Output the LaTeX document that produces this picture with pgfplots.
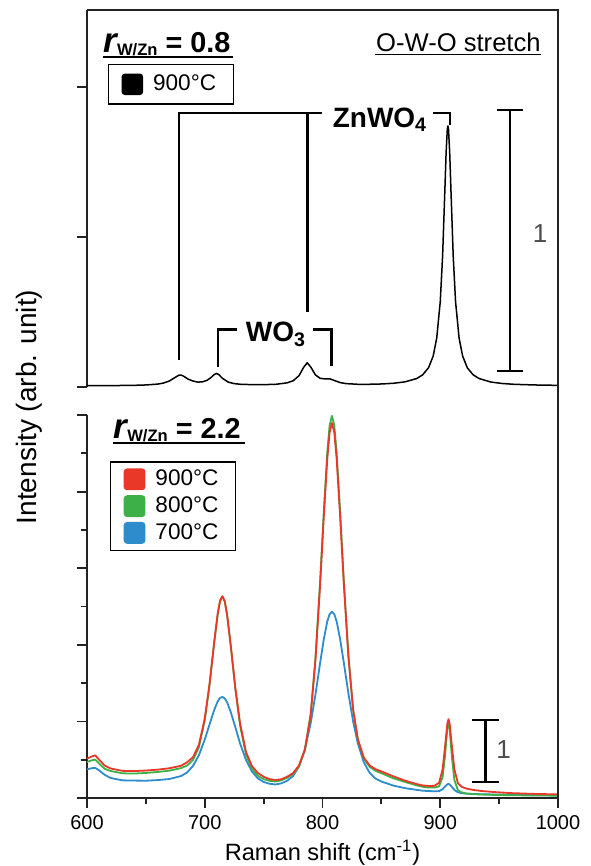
\documentclass[border=0pt]{standalone}
\usepackage{pgfplots}
\pgfplotsset{compat=1.18}
\usepackage{fontspec}
\setmainfont{Liberation Sans}
\definecolor{cred}{RGB}{234,56,40}
\definecolor{cgreen}{RGB}{62,176,72}
\definecolor{cblue}{RGB}{44,140,204}
\definecolor{frame}{RGB}{35,35,35}
\newcommand{\rtitle}[1]{{\fontsize{17.5}{20}\selectfont\bfseries\itshape r}\raisebox{-1.5pt}{\fontsize{8.3}{10}\selectfont\bfseries W/Zn}{\fontsize{14.4}{17}\selectfont\bfseries\ = #1}}
\tikzset{bracket/.style={line width=1.3pt, black, line join=miter}}

\pgfplotstableread{
x y
600 0.005
620 0.0053
640 0.0064
650 0.0078
660 0.0111
665 0.0152
670 0.0232
674 0.0345
678 0.0454
680 0.0456
682 0.0416
686 0.0299
690 0.0230
694 0.0189
698 0.0196
702 0.0256
706 0.039
708 0.0479
710 0.0522
712 0.0475
715 0.0333
720 0.0187
725 0.013
730 0.0106
740 0.009
750 0.0092
760 0.0101
770 0.016
775 0.0239
780 0.0432
784 0.0757
787 0.0932
790 0.0769
794 0.0466
798 0.0333
802 0.0312
806 0.0317
810 0.0251
815 0.0169
820 0.013
830 0.0104
840 0.0105
850 0.0116
860 0.0142
870 0.0197
880 0.0325
885 0.0465
890 0.0737
894 0.119
897 0.188
900 0.328
902 0.504
904 0.768
905 0.904
906 0.992
906.5 1.004
907 0.992
908 0.904
909 0.768
911 0.504
913 0.328
916 0.188
919 0.119
923 0.0737
928 0.0465
933 0.0325
943 0.019
953 0.0133
963 0.0103
980 0.0078
1000 0.0063
}\topdata

\pgfplotstableread{
x y
600 0.634
604 0.670
607 0.688
610 0.624
615 0.523
620 0.476
630 0.438
640 0.434
650 0.443
660 0.457
670 0.480
680 0.521
685 0.576
690 0.658
695 0.855
700 1.284
704 1.83
708 2.508
711 2.97
713 3.18
715 3.251
717 3.172
719 2.953
722 2.476
726 1.775
730 1.204
735 0.745
740 0.516
745 0.405
750 0.343
755 0.305
760 0.290
765 0.303
770 0.343
775 0.402
780 0.523
785 0.777
790 1.348
794 2.219
798 3.445
801 4.503
804 5.456
806 5.891
808 6.047
810 5.900
812 5.473
815 4.534
818 3.488
822 2.279
826 1.425
830 0.947
835 0.655
840 0.525
845 0.465
850 0.429
860 0.35
870 0.281
880 0.225
885 0.203
890 0.194
895 0.196
899 0.245
902 0.463
904 0.815
906 1.200
907 1.271
908 1.199
910 0.813
912 0.460
915 0.238
918 0.183
922 0.153
928 0.130
935 0.113
945 0.097
960 0.079
980 0.066
1000 0.058
}\reddata

\pgfplotstableread{
x y
600 0.581
604 0.607
607 0.618
610 0.561
615 0.471
620 0.436
630 0.398
640 0.394
650 0.404
660 0.419
670 0.441
680 0.483
685 0.523
690 0.612
695 0.817
700 1.25
704 1.808
708 2.499
711 2.969
713 3.181
715 3.254
717 3.172
719 2.949
722 2.464
726 1.753
730 1.171
735 0.703
740 0.473
745 0.36
750 0.304
755 0.277
760 0.266
765 0.285
770 0.326
775 0.388
780 0.507
785 0.768
790 1.357
794 2.249
798 3.504
801 4.584
804 5.558
806 6.004
808 6.163
810 6.012
812 5.574
815 4.611
818 3.54
822 2.302
826 1.427
830 0.942
835 0.639
840 0.504
845 0.439
850 0.401
860 0.319
870 0.259
880 0.204
885 0.181
890 0.17
895 0.168
899 0.187
902 0.336
904 0.668
906 1.117
907 1.205
908 1.107
910 0.639
912 0.29
915 0.126
918 0.091
922 0.074
928 0.062
935 0.056
945 0.05
960 0.045
980 0.04
1000 0.038
}\greendata

\pgfplotstableread{
x y
600 0.464
604 0.48
607 0.486
610 0.45
615 0.374
620 0.323
630 0.285
640 0.281
650 0.279
660 0.289
670 0.306
680 0.355
685 0.411
690 0.517
695 0.688
700 0.942
704 1.182
708 1.419
711 1.559
713 1.614
715 1.63
717 1.606
719 1.543
722 1.391
726 1.14
730 0.879
735 0.614
740 0.431
745 0.318
750 0.258
755 0.23
760 0.218
765 0.236
770 0.278
775 0.355
780 0.509
785 0.78
790 1.209
794 1.667
798 2.18
801 2.548
804 2.844
806 2.963
808 3.005
810 2.966
812 2.849
815 2.558
818 2.194
822 1.688
826 1.235
830 0.88
835 0.58
840 0.407
845 0.314
850 0.266
860 0.201
870 0.159
880 0.131
885 0.118
890 0.112
895 0.109
899 0.111
902 0.142
904 0.183
906 0.222
907 0.227
908 0.219
910 0.176
912 0.13
915 0.092
918 0.079
922 0.07
928 0.065
935 0.061
945 0.057
960 0.052
980 0.046
1000 0.042
}\bluedata

\pgfplotsset{
  panel/.style={
    scale only axis, width=235.5pt,
    xmin=600, xmax=1000,
    axis line style={frame, line width=0.9pt},
    tick style={frame, line width=0.9pt},
    tick align=outside,
    major tick length=5pt, minor tick length=3pt,
    yticklabels={},
    /pgf/number format/assume math mode=true,
    /pgf/number format/1000 sep={},
    ticklabel style={font=\fontsize{10}{12}\selectfont},
    legend cell align=left,
    legend image code/.code={\fill[##1, rounded corners=1.3pt] (0pt,-5pt) rectangle (10pt,5pt);},
    legend style={draw=black, line width=0.6pt, font=\fontsize{11.3}{13}\selectfont,
      inner xsep=6.5pt, inner ysep=2pt, anchor=north west,
      /tikz/every odd column/.append style={column sep=3pt}},
    clip=false,
  },
}

\begin{document}
\begin{tikzpicture}
\useasboundingbox (0,0) rectangle (295pt,433pt);

\begin{axis}[panel, name=top, at={(43.5pt,239.5pt)}, anchor=south west, height=188.5pt,
  ymin=0, ymax=1.45, axis x line=none, axis y line*=left,
  ytick={0,0.577,1.154}, xtick=\empty,
  legend style={at={(0.0446,0.857)}, inner ysep=3.2pt}]
\addplot[black, line width=0.75pt, line join=round] table[x=x,y=y] {\topdata};
\addlegendentry{900°C}
\draw[bracket] (axis cs:678.1,0.104) -- (axis cs:678.1,1.054) -- (axis cs:799.6,1.054);
\draw[bracket] (axis cs:787.4,1.054) -- (axis cs:787.4,0.29);
\draw[bracket] (axis cs:893.8,1.054) -- (axis cs:908.3,1.054) -- (axis cs:908.3,1.008);
\node[anchor=base, font=\fontsize{14}{16}\selectfont\bfseries] at (axis cs:848.8,0.9985) {ZnWO\textsubscript{4}};
\draw[bracket] (axis cs:711.2,0.078) -- (axis cs:711.2,0.222) -- (axis cs:727.1,0.222);
\draw[bracket] (axis cs:791.9,0.222) -- (axis cs:807.8,0.222) -- (axis cs:807.8,0.081);
\node[anchor=base, font=\fontsize{14}{16}\selectfont\bfseries] at (axis cs:760.5,0.174) {WO\textsubscript{3}};
\draw[bracket] (axis cs:959.2,0.0615) -- (axis cs:959.2,1.065);
\draw[bracket] (axis cs:948.2,0.0615) -- (axis cs:970.3,0.0615);
\draw[bracket] (axis cs:948.2,1.065) -- (axis cs:970.3,1.065);
\node[font=\fontsize{13}{15}\selectfont, text=black!70] at (axis cs:984.7,0.59) {1};
\node[anchor=base west, inner sep=0pt] at (axis cs:613.6,1.288) {\rtitle{0.8}};
\draw[line width=0.85pt] (axis cs:613.6,1.269) -- (axis cs:724.0,1.269);
\node[anchor=base east, inner sep=0pt, font=\fontsize{12.8}{15}\selectfont] at (axis cs:985.6,1.292) {O-W-O stretch};
\draw[line width=0.6pt] (axis cs:844.6,1.279) -- (axis cs:985.6,1.279);
\end{axis}

\begin{axis}[panel, name=bot, at={(43.5pt,34pt)}, anchor=south west, height=191.5pt,
  ymin=0, ymax=6.177, axis x line*=bottom, axis y line*=left,
  xtick={600,700,800,900,1000}, minor xtick={650,750,850,950},
  ytick={0,1.2354,2.4708,3.7062,4.9416,6.177},
  minor ytick={0.6177,1.8531,3.0885,4.3239,5.5593},
  xlabel={Raman shift (cm\textsuperscript{-1})},
  ylabel={Intensity (arb. unit)},
  xlabel style={at={(rel axis cs:0.5,-0.162)}, anchor=base, font=\fontsize{11.8}{14}\selectfont},
  ylabel style={at={(rel axis cs:-0.123,1.021)}, anchor=center, font=\fontsize{14}{16}\selectfont},
  legend style={at={(0.049,0.879)}},
  reverse legend]
\addplot[cblue, line width=0.9pt, line join=round] table[x=x,y=y] {\bluedata};
\addlegendentry{700°C}
\addplot[cgreen, line width=0.9pt, line join=round] table[x=x,y=y] {\greendata};
\addlegendentry{800°C}
\addplot[cred, line width=0.9pt, line join=round] table[x=x,y=y] {\reddata};
\addlegendentry{900°C}
\node[anchor=base west, inner sep=0pt] at (axis cs:622.3,5.806) {\rtitle{2.2}};
\draw[line width=0.85pt] (axis cs:622.3,5.731) -- (axis cs:734.2,5.731);
\draw[bracket] (axis cs:938.6,0.258) -- (axis cs:938.6,1.258);
\draw[bracket] (axis cs:926.7,0.258) -- (axis cs:950.2,0.258);
\draw[bracket] (axis cs:926.7,1.258) -- (axis cs:950.2,1.258);
\node[font=\fontsize{13}{15}\selectfont, text=black!70] at (axis cs:953.7,0.774) {1};
\end{axis}

\draw[frame, line width=0.9pt] (43.5pt,428pt) -- (279pt,428pt) -- (279pt,34pt);
\end{tikzpicture}
\end{document}
